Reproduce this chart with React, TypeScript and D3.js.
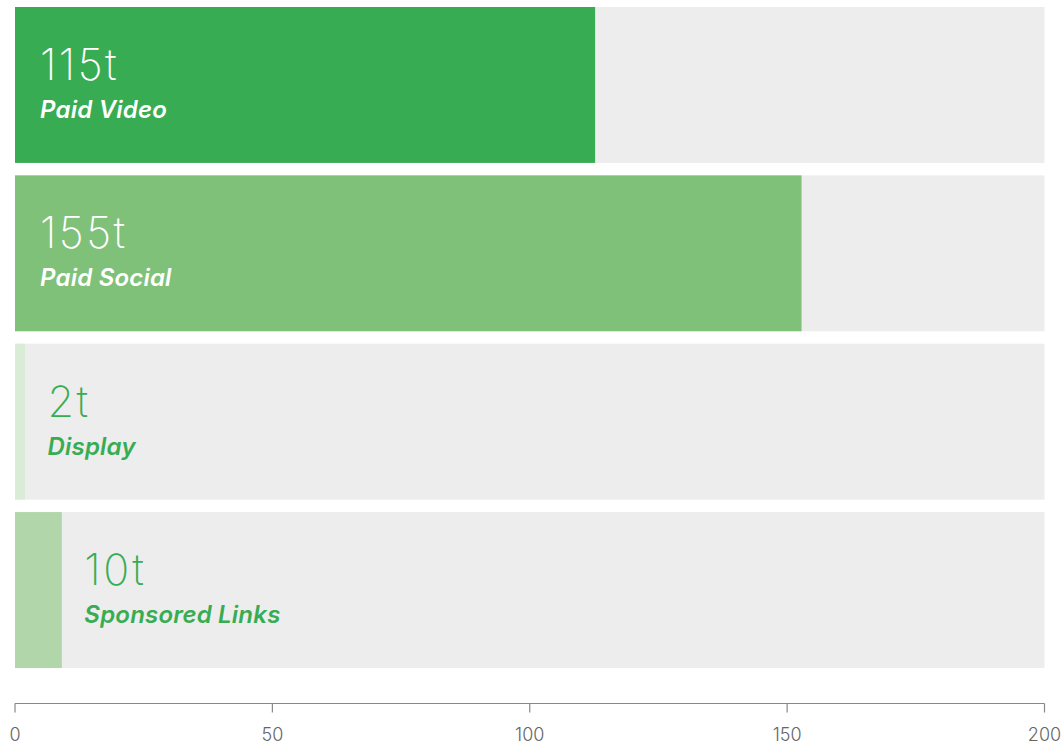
import React from "react";
import * as d3 from "d3";

const categories = ["Paid Video", "Paid Social", "Display", "Sponsored Links"];
const values = [112.7, 152.8, 1.95, 9.1];
const valueLabels = ["115t", "155t", "2t", "10t"];
const barColors = ["#38ac52", "#80c17a", "#d9ecd5", "#b1d6a9"];
const ticks = [0, 50, 100, 150, 200];

const W = 1064;
const H = 745;

export default function App() {
  const x = d3.scaleLinear().domain([0, 200]).range([15, 1044.5]);
  const y = d3
    .scaleBand<string>()
    .domain(categories)
    .range([7, 668])
    .paddingInner(0.074)
    .paddingOuter(0);
  const axisY = 703.5;
  const green = "#38ac52";
  return (
    <svg
      width={W}
      height={H}
      style={{ position: "absolute", left: 0, top: 0, display: "block" }}
    >
      {categories.map((c, i) => {
        const y0 = y(c)!;
        const bh = y.bandwidth();
        const xEnd = x(values[i]);
        const inside = xEnd - x(0) > 200;
        const tx = inside ? x(0) + 25 : xEnd + 22.5;
        const fill = inside ? "#ffffff" : green;
        const cy = y0 + bh / 2;
        return (
          <g key={c}>
            <rect x={x(0)} y={y0} width={x(200) - x(0)} height={bh} fill="#ededed" />
            <rect x={x(0)} y={y0} width={xEnd - x(0)} height={bh} fill={barColors[i]} />
            <text
              x={tx}
              y={cy - 5}
              fill={fill}
              fontFamily="Inter, 'Open Sans', sans-serif"
              fontWeight={200}
              fontSize={43}
              letterSpacing={2.5}
            >
              {valueLabels[i]}
            </text>
            <text
              x={tx}
              y={cy + 33}
              fill={fill}
              fontFamily="Inter, 'Open Sans', sans-serif"
              fontWeight={600}
              fontStyle="italic"
              fontSize={24}
              letterSpacing={0.2}
            >
              {c}
            </text>
          </g>
        );
      })}
      <line x1={x(0)} x2={x(200)} y1={axisY} y2={axisY} stroke="#888" strokeWidth={1.2} />
      {ticks.map((t) => (
        <g key={t} transform={`translate(${x(t)},0)`}>
          <line y1={axisY} y2={axisY + 9} stroke="#888" strokeWidth={1.2} />
          <text
            y={741}
            textAnchor="middle"
            fill="#666"
            fontFamily="Inter, 'Open Sans', sans-serif"
            fontWeight={300}
            fontSize={18}
          >
            {t}
          </text>
        </g>
      ))}
    </svg>
  );
}
